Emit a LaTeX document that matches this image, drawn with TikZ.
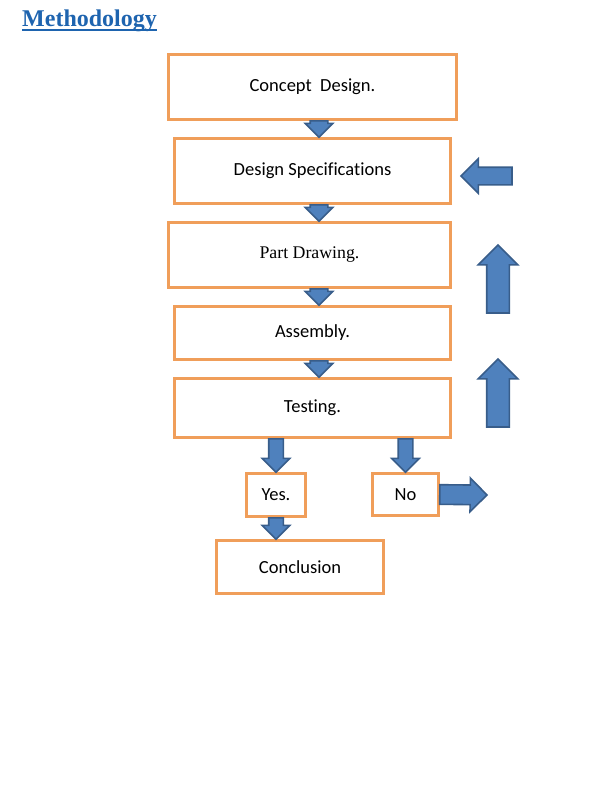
\documentclass[tikz,border=0pt]{standalone}
\usepackage{fontspec}
\setmainfont{Carlito}[Ligatures=NoCommon]
\newfontfamily\timesfont{Liberation Serif}
\usetikzlibrary{calc,shapes.arrows}
\definecolor{boxorange}{RGB}{240,158,90}
\definecolor{arrowfill}{RGB}{79,129,189}
\definecolor{arrowline}{RGB}{56,93,138}
\definecolor{titleblue}{RGB}{30,100,175}
% block arrow from #3 to #4, shaft width #1, head width #2
\newcommand{\blkarrow}[4]{%
  \path let \p1=(#3), \p2=(#4), \n1={veclen(\x2-\x1,\y2-\y1)}, \n2={atan2(\y2-\y1,\x2-\x1)} in
    node[blk, minimum height=\n1, inner ysep={(#1)/2}, single arrow head extend={(#2-#1)/2},
      rotate=\n2, anchor=tail] at (\p1) {};}
\begin{document}
\begin{tikzpicture}[x=1pt,y=-1pt,
  stage/.style={draw=boxorange, line width=2.6pt, fill=white, inner sep=0pt,
    font=\fontsize{18.5}{22}\selectfont},
  blk/.style={single arrow, draw=arrowline, fill=arrowfill, line width=1.6pt, inner xsep=0pt, outer sep=0pt}]
\useasboundingbox (0,0) rectangle (612,792);
\node[anchor=base west, inner sep=0pt, text=titleblue,
  font=\timesfont\bfseries\fontsize{24}{28}\selectfont] (title) at (22,27) {Methodology};
\draw[titleblue, line width=1.4pt] ([yshift=-3pt]title.base west) -- ([yshift=-3pt]title.base east);
\node[stage, minimum width=288pt, minimum height=65pt] (concept) at (312.5,87) {Concept\ \ Design.};
\node[stage, minimum width=276pt, minimum height=65pt] (spec) at (312.5,171) {Design Specifications};
\node[stage, minimum width=282pt, minimum height=65pt, font=\timesfont\fontsize{17.8}{22}\selectfont] (part) at (309.5,255) {Part Drawing.};
\node[stage, minimum width=276pt, minimum height=53pt] (assembly) at (312.5,333) {Assembly.};
\node[stage, minimum width=276pt, minimum height=59pt] (testing) at (312.5,408) {Testing.};
\node[stage, minimum width=59pt, minimum height=43pt] (yes) at (276,495) {Yes.};
\node[stage, minimum width=66pt, minimum height=42pt] (no) at (405.5,494.5) {No};
\node[stage, minimum width=167pt, minimum height=53pt] (conclusion) at (300,567) {Conclusion};
\coordinate (spine) at (319,0);
\coordinate (noend) at (487,495);
\coordinate (backtail) at (512,176);
\coordinate (backtip) at (461,176);
\coordinate (uptailA) at (498,313);
\coordinate (uptipA) at (498,245);
\coordinate (uptailB) at (498,427);
\coordinate (uptipB) at (498,359);
\blkarrow{16pt}{26pt}{concept.south -| spine}{spec.north -| spine}
\blkarrow{16pt}{26pt}{spec.south -| spine}{part.north -| spine}
\blkarrow{16pt}{26pt}{part.south -| spine}{assembly.north -| spine}
\blkarrow{16pt}{26pt}{assembly.south -| spine}{testing.north -| spine}
\blkarrow{13pt}{26pt}{testing.south -| yes.north}{yes.north}
\blkarrow{13pt}{26pt}{testing.south -| no.north}{no.north}
\blkarrow{13pt}{26pt}{yes.south}{yes.south |- conclusion.north}
\blkarrow{18pt}{32pt}{no.east}{noend}
\blkarrow{16pt}{33pt}{backtail}{backtip}
\blkarrow{21pt}{38pt}{uptailA}{uptipA}
\blkarrow{21pt}{38pt}{uptailB}{uptipB}
\end{tikzpicture}
\end{document}
